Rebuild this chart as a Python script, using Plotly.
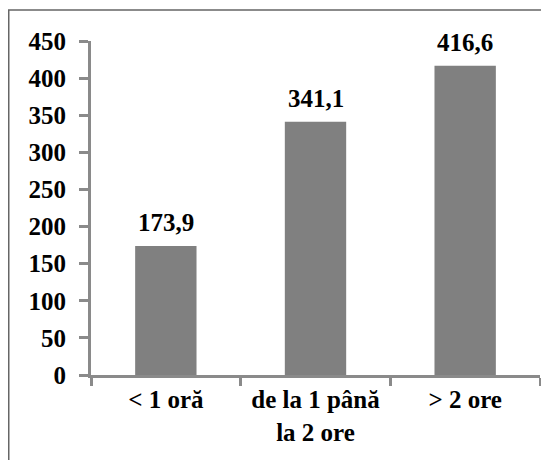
import plotly.graph_objects as go

categories = ["< 1 oră", "de la 1 până<br>la 2 ore", "> 2 ore"]
values = [173.9, 341.1, 416.6]
value_labels = ["173,9", "341,1", "416,6"]
y_ticks = [0, 50, 100, 150, 200, 250, 300, 350, 400, 450]

FONT = "Liberation Serif"
AXIS = "#8a8a8a"

fig = go.Figure(go.Bar(
    x=categories, y=values,
    marker=dict(color="#808080", line=dict(width=0)),
))

for cat, val, lab in zip(categories, values, value_labels):
    fig.add_annotation(
        x=cat, y=val, text=lab, showarrow=False,
        xanchor="center", yanchor="bottom", yshift=8,
        font=dict(family=FONT, size=25, color="#000000", weight="bold"),
    )

# page body has an 8px margin, so figure coords = screen coords - 8
W, H = 541, 452
L, R, T, B = 83, 9, 33, 85
pw, ph = W - L - R, H - T - B

def px_x(p):
    return (p - L) / pw

def px_y(p):
    return (H - B - p) / ph

fig.update_layout(
    width=W, height=H,
    margin=dict(l=L, r=R, t=T, b=B),
    paper_bgcolor="white", plot_bgcolor="white",
    showlegend=False,
    bargap=0.59,
    font=dict(family=FONT, size=25, color="#000000", weight="bold"),
    xaxis=dict(
        type="category", showgrid=False, showline=True, linecolor=AXIS, linewidth=3,
        ticks="outside", tickson="boundaries", ticklen=8, tickwidth=3, tickcolor=AXIS,
        tickfont=dict(family=FONT, size=25, color="#000000", weight="bold"),
        zeroline=False,
    ),
    yaxis=dict(
        range=[0, 450], tickvals=y_ticks, showgrid=False, showline=True,
        linecolor=AXIS, linewidth=3, ticks="outside", ticklen=9, tickwidth=3,
        tickcolor=AXIS, ticklabelstandoff=8,
        tickfont=dict(family=FONT, size=25, color="#000000", weight="bold"),
        zeroline=False,
    ),
    shapes=[dict(
        type="rect", xref="paper", yref="paper",
        x0=px_x(0.75), x1=px_x(560), y0=px_y(470), y1=px_y(2),
        line=dict(color="#666666", width=1.5), fillcolor="rgba(0,0,0,0)",
        layer="below",
    )],
)

fig.write_html("out.html")
